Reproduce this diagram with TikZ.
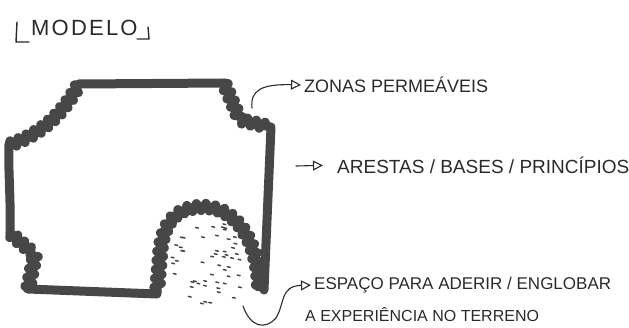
\documentclass[tikz,border=0pt]{standalone}
\usepackage{fontspec}
\setmainfont{Liberation Sans}
\usetikzlibrary{arrows.meta,decorations.pathmorphing}
\definecolor{ink}{HTML}{474747}
\definecolor{pen}{HTML}{2A2A2A}
\tikzset{
  wall/.style={draw=ink, line width=9pt, line cap=round, line join=round},
  perm/.style={wall, decorate, decoration={zigzag, segment length=9pt, amplitude=3.6pt}},
  lbl/.style={text=pen, inner sep=0pt, anchor=west},
  lead/.style={draw=pen, line width=1.1pt, line cap=round, -{Triangle[open, length=10pt, width=10pt]}},
  penline/.style={draw=pen, line width=1.4pt, line cap=round, line join=round},
  stip/.style={draw=ink, line width=1.5pt, line cap=round}
}
\begin{document}
\begin{tikzpicture}[x=1pt,y=-1pt]
\useasboundingbox (0,0) rectangle (629,327);
% title
\node[lbl, font=\fontsize{22}{24}\selectfont\addfontfeatures{LetterSpace=10}] (title) at (31,28) {MODELO};
\draw[penline] (17,22) -- (16,42) -- (29,42);
\draw[penline] (148,27) -- (149,39) -- (137,39);
% outline
\draw[wall] (79,84) -- (224,83);
\draw[perm] (224,83) -- (240,120) -- (270,127);
\draw[wall] (271,127) -- (264,290);
\draw[perm] (259,287) .. controls (258,240) and (235,205) .. (200,207) .. controls (175,208) and (162,225) .. (160,255) -- (157,293);
\draw[wall] (157,294) -- (28,289);
\draw[perm] (28,289) -- (35,255) -- (10,233);
\draw[wall] (10,233) .. controls (11,200) and (8,170) .. (9,145);
\draw[perm] (9,145) .. controls (45,133) and (65,110) .. (79,84);
% stipple
\pgfmathsetseed{77}
\foreach \i in {1,...,70}{
  \pgfmathsetmacro\px{168+82*rnd}
  \pgfmathsetmacro\py{220+86*rnd}
  \pgfmathtruncatemacro\ok{((((\px-209)/39)^2+((\py-264)/43)^2)<1)?1:0}
  \ifnum\ok=1 \draw[stip] (\px,\py) -- ++(2.8,0.6); \fi
}
% labels
\node[lbl, font=\fontsize{18}{20}\selectfont] (zonas) at (304,85) {ZONAS PERMEÁVEIS};
\node[lbl, font=\fontsize{19}{21}\selectfont] (arestas) at (337,165) {ARESTAS / BASES / PRINCÍPIOS};
\node[lbl, font=\fontsize{17}{19}\selectfont] (espaco) at (314,285) {ESPAÇO PARA ADERIR / ENGLOBAR};
\node[lbl, font=\fontsize{16}{18}\selectfont] (espaco2) at (305,315) {A EXPERIÊNCIA NO TERRENO};
% leaders
\coordinate (z0) at (252,108);
\coordinate (a0) at (296,166);
\coordinate (e0) at (243,306);
\draw[lead, shorten >=3pt] (z0) .. controls (250,90) and (262,84) .. (zonas.west);
\draw[lead, shorten >=14pt] (a0) -- (arestas.west);
\draw[lead, shorten >=3pt] (e0) .. controls (250,326) and (264,331) .. (276,318) .. controls (285,303) and (280,286) .. (espaco.west);
\end{tikzpicture}
\end{document}
